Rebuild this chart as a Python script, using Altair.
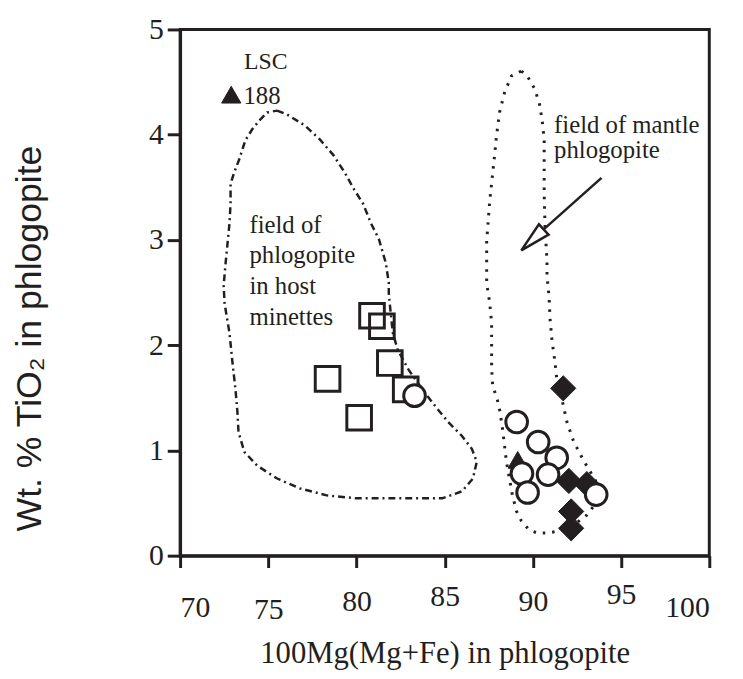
import altair as alt
import pandas as pd

# ---- field outlines ----
host_x = [75.50, 76.06, 77.07, 77.91, 78.69, 79.31, 79.87, 80.37, 80.82, 81.27, 81.66, 81.83,
          81.83, 81.94, 82.06, 82.34, 82.95, 83.74, 84.47, 85.20, 85.98, 86.54, 86.82, 86.60,
          85.98, 84.86, 82.39, 79.98, 78.30, 76.79, 75.50, 74.37, 73.64, 73.31, 73.25, 73.14,
          72.97, 72.80, 72.52, 72.47, 72.58, 72.69, 72.80, 72.86, 72.86, 73.08, 73.36, 73.70,
          74.09, 74.49, 74.93, 75.50]
host_y = [4.229, 4.192, 4.088, 3.957, 3.806, 3.647, 3.477, 3.346, 3.158, 3.008, 2.782, 2.594,
          2.491, 2.303, 2.115, 1.955, 1.767, 1.579, 1.419, 1.269, 1.137, 1.015, 0.893, 0.733,
          0.611, 0.545, 0.545, 0.545, 0.573, 0.639, 0.733, 0.855, 0.987, 1.175, 1.363, 1.579,
          1.833, 2.115, 2.397, 2.566, 2.782, 2.970, 3.158, 3.346, 3.534, 3.647, 3.769, 3.947,
          4.051, 4.135, 4.211, 4.229]

mantle_x = [89.35, 89.68, 90.07, 90.36, 90.52, 90.64, 90.64, 90.64, 90.69, 90.80, 90.80, 90.92,
            90.97, 91.08, 91.25, 91.36, 91.65, 91.93, 92.32, 92.88, 93.55, 93.61, 93.44, 93.05,
            92.32, 91.59, 90.80, 90.24, 89.79, 89.35, 89.07, 88.84, 88.67, 88.50, 88.28, 88.11,
            87.94, 87.72, 87.66, 87.66, 87.66, 87.55, 87.38, 87.38, 87.38, 87.55, 87.83, 87.94,
            88.11, 88.39, 88.78, 89.35]
mantle_y = [4.605, 4.558, 4.445, 4.305, 4.145, 3.957, 3.741, 3.430, 3.111, 2.801, 2.660, 2.453,
            2.256, 2.049, 1.842, 1.673, 1.485, 1.269, 1.081, 0.902, 0.714, 0.611, 0.470, 0.385,
            0.291, 0.235, 0.216, 0.216, 0.244, 0.329, 0.423, 0.573, 0.733, 0.893, 1.203, 1.391,
            1.513, 1.607, 1.795, 2.021, 2.209, 2.406, 2.585, 2.782, 2.989, 3.365, 3.806, 3.994,
            4.211, 4.398, 4.558, 4.605]

# ---- samples ----
sq_x = [80.88, 81.44, 81.89, 82.79, 78.36, 80.15]
sq_y = [2.28, 2.18, 1.83, 1.58, 1.68, 1.31]
ci_x = [83.29, 89.08, 90.30, 91.35, 89.38, 90.86, 89.70, 93.59]
ci_y = [1.52, 1.27, 1.08, 0.93, 0.78, 0.77, 0.60, 0.58]
di_x = [91.72, 92.04, 93.06, 92.17, 92.17]
di_y = [1.59, 0.71, 0.68, 0.42, 0.26]
tr_x = [72.90, 89.14]
tr_y = [4.38, 0.91]

# ---- annotations ----
lsc_text = ["LSC", "188"]
lsc_size = [24, 25]
lsc_x = [73.62, 73.59]
lsc_y = [4.62, 4.29]
host_label = "field of\nphlogopite\nin host\nminettes"
host_label_xy = (73.93, 3.07)
mantle_label = "field of mantle\nphlogopite"
mantle_label_xy = (91.20, 4.02)
arrow_start = (93.89, 3.59)
arrow_base = (90.61, 3.10)
arrow_head = (89.98, 3.00)

x_ticks = [70, 75, 80, 85, 90, 95, 100]
y_ticks = [0, 1, 2, 3, 4, 5]

INK = "#231f20"
SERIF = "Liberation Serif"

xs = alt.Scale(domain=[70, 100], nice=False, zero=False)
ys = alt.Scale(domain=[0, 5], nice=False, zero=False)

pad_cond = [
    {"test": "datum.value == 70", "value": 26},
    {"test": "datum.value == 75", "value": 28},
    {"test": "datum.value == 80", "value": 19},
    {"test": "datum.value == 85", "value": 14},
    {"test": "datum.value == 90", "value": 19},
    {"test": "datum.value == 95", "value": 12},
    {"test": "datum.value == 100", "value": 26},
]

X_AXIS = alt.Axis(values=x_ticks, format="d", title="100Mg(Mg+Fe) in phlogopite", grid=False,
                  labelFont=SERIF, labelFontSize=30, labelColor=INK, labelBaseline="top",
                  labelPadding={"condition": pad_cond, "value": 19},
                  tickSize=12, tickWidth=3, tickColor=INK, domainColor=INK, domainWidth=3,
                  titleFont=SERIF, titleFontSize=31, titleFontWeight="normal", titleColor=INK,
                  titleY=108, titleBaseline="alphabetic")
Y_AXIS = alt.Axis(values=y_ticks, format="d", title="Wt. % TiO₂ in phlogopite", grid=False,
                  labelFont=SERIF, labelFontSize=30, labelColor=INK, labelPadding=4,
                  tickSize=13, tickWidth=3, tickColor=INK, domainColor=INK, domainWidth=3,
                  titleFont="Liberation Sans", titleFontSize=36, titleFontWeight="normal",
                  titleColor=INK, titleAngle=270, titleX=-141, titleY=312, titleAlign="center",
                  titleBaseline="alphabetic")


def X():
    return alt.X("x:Q", scale=xs, axis=X_AXIS)


def Y():
    return alt.Y("y:Q", scale=ys, axis=Y_AXIS)


def df(xv, yv):
    return pd.DataFrame({"x": xv, "y": yv, "i": list(range(len(xv)))})


host = alt.Chart(df(host_x, host_y)).mark_line(
    stroke=INK, strokeWidth=2.5, strokeDash=[7, 4, 2, 4]).encode(
    x=X(), y=Y(), order="i:Q")
mantle = alt.Chart(df(mantle_x, mantle_y)).mark_line(
    stroke=INK, strokeWidth=3, strokeDash=[2.5, 7]).encode(
    x=X(), y=Y(), order="i:Q")

squares = alt.Chart(df(sq_x, sq_y)).mark_point(
    shape="square", size=620, filled=False, stroke=INK, strokeWidth=3, opacity=1).encode(
    x=X(), y=Y())
triangles = alt.Chart(df(tr_x, tr_y)).mark_point(
    shape="triangle-up", size=380, filled=True, fill=INK, stroke=INK, strokeWidth=1, opacity=1).encode(
    x=X(), y=Y())
diamonds = alt.Chart(df(di_x, di_y)).mark_point(
    shape="diamond", size=650, filled=True, fill=INK, stroke=INK, strokeWidth=1, opacity=1).encode(
    x=X(), y=Y())
circles = alt.Chart(df(ci_x, ci_y)).mark_point(
    shape="circle", size=480, filled=True, fill="white", stroke=INK, strokeWidth=3, opacity=1).encode(
    x=X(), y=Y())

lsc = alt.Chart(pd.DataFrame({"x": lsc_x, "y": lsc_y, "t": lsc_text, "s": lsc_size})).mark_text(
    align="left", baseline="alphabetic", font=SERIF, color=INK).encode(
    x=X(), y=Y(), text="t:N", size=alt.Size("s:Q", scale=None, legend=None))
host_txt = alt.Chart(pd.DataFrame({"x": [host_label_xy[0]], "y": [host_label_xy[1]], "t": [host_label]})).mark_text(
    align="left", baseline="alphabetic", font=SERIF, fontSize=25, lineHeight=31, lineBreak="\n", color=INK).encode(
    x=X(), y=Y(), text="t:N")
mantle_txt = alt.Chart(pd.DataFrame({"x": [mantle_label_xy[0]], "y": [mantle_label_xy[1]], "t": [mantle_label]})).mark_text(
    align="left", baseline="alphabetic", font=SERIF, fontSize=25, lineHeight=26, lineBreak="\n", color=INK).encode(
    x=X(), y=Y(), text="t:N")

shaft = alt.Chart(pd.DataFrame({"x": [arrow_start[0]], "y": [arrow_start[1]],
                                "x2": [arrow_base[0]], "y2": [arrow_base[1]]})).mark_rule(
    stroke=INK, strokeWidth=2.5).encode(x=X(), y=Y(), x2="x2:Q", y2="y2:Q")
head = alt.Chart(pd.DataFrame({"x": [arrow_head[0]], "y": [arrow_head[1]]})).mark_point(
    shape="M0,-1L0.46,1L-0.46,1Z", size=961, angle=227, filled=True, fill="white",
    stroke=INK, strokeWidth=2.5, opacity=1).encode(x=X(), y=Y())

chart = alt.layer(host, mantle, squares, triangles, diamonds, circles,
                  lsc, host_txt, mantle_txt, shaft, head).properties(
    width=535, height=532,
    background="white",
    autosize=alt.AutoSizeParams(type="none"),
    padding={"left": 174, "top": 18, "right": 26, "bottom": 120},
).configure_view(stroke=INK, strokeWidth=3)

chart.save("out.html", embed_options={"renderer": "svg", "actions": False})
